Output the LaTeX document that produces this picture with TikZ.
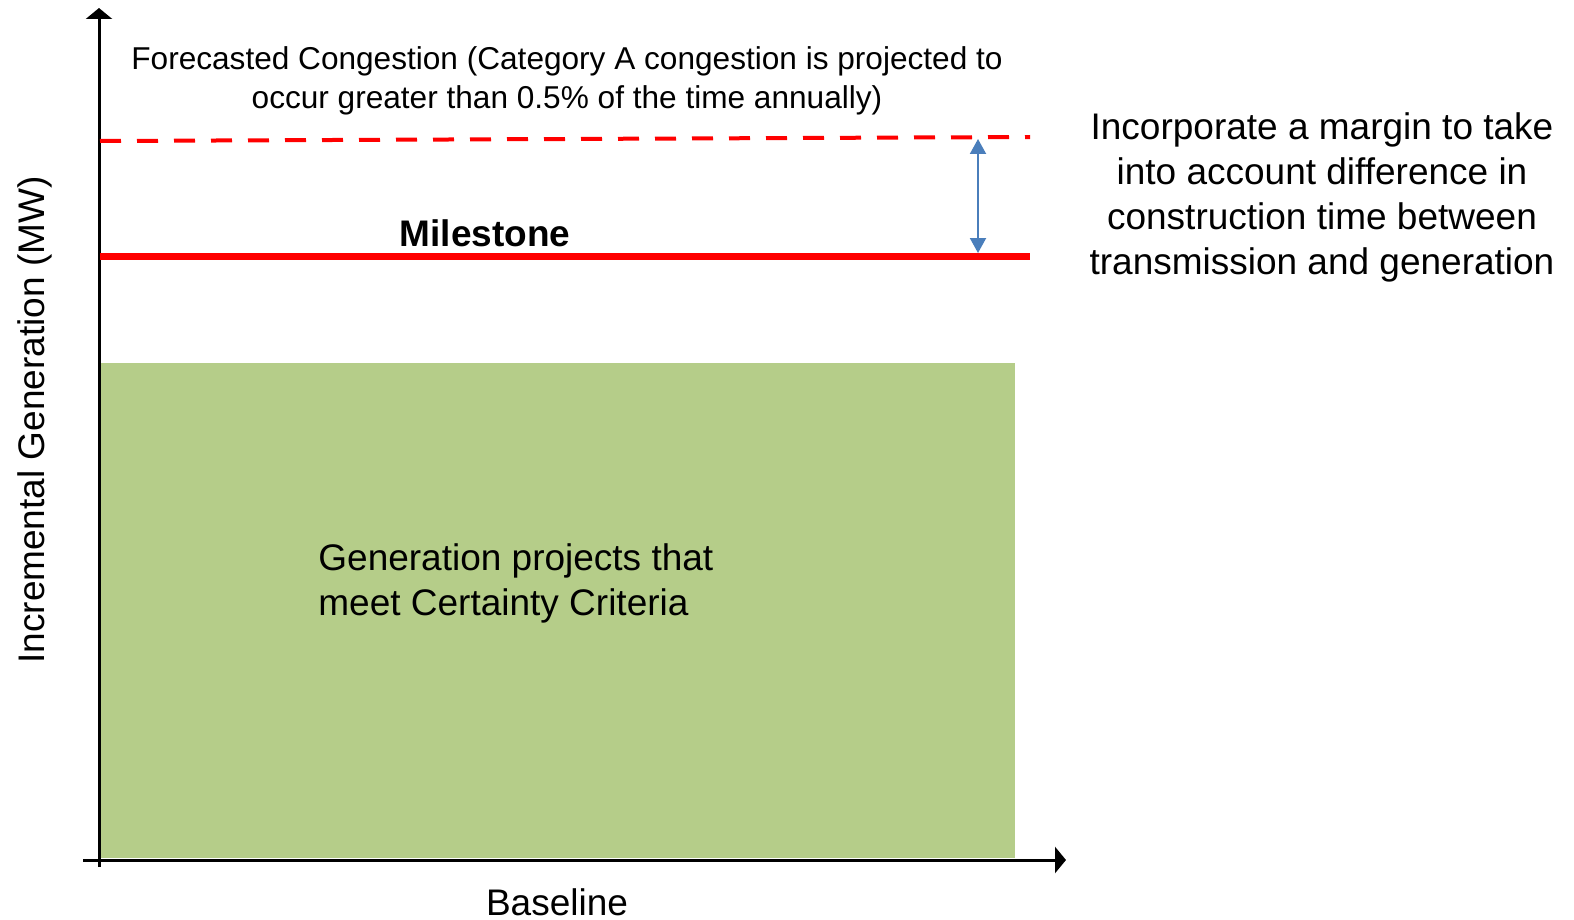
\documentclass[tikz,border=0pt]{standalone}
\usepackage{fontspec}
\setmainfont{Liberation Sans}
\usetikzlibrary{arrows.meta,positioning}
\definecolor{certgreen}{RGB}{181,205,137}
\definecolor{marginblue}{RGB}{74,126,187}

\begin{document}
\begin{tikzpicture}[x=0.5pt,y=-0.5pt]
	\tikzstyle{axis}=[line width=1.5pt, -{Triangle[length=5.5pt,width=13pt]}]
	\tikzstyle{limit}=[red, line width=3.5pt]
	\tikzstyle{forecast}=[red, line width=2pt, dash pattern=on 10.5pt off 8pt]
	\tikzstyle{margin}=[marginblue, line width=1pt, {Triangle[length=7.5pt,width=8pt]}-{Triangle[length=7.5pt,width=8pt]}]
	\tikzstyle{txt}=[inner sep=0pt, align=center, font=\fontsize{18.5}{22.5}\selectfont]
	\useasboundingbox (0,0) rectangle (1574,920);
	% certain generation block
	\fill[certgreen] (100,363) rectangle (1015,858);
	\node[txt, align=left, anchor=west] (certain) at (318,583) {Generation projects that\\meet Certainty Criteria};
	% axes
	\coordinate (ybot) at (99,867);
	\coordinate (ytop) at (99,8);
	\coordinate (xbeg) at (83,860);
	\coordinate (xend) at (1066,860);
	\draw[axis] (ybot) -- (ytop);
	\draw[axis] (xbeg) -- (xend);
	\node[txt] (base) at (557,902) {Baseline};
	\node[txt, rotate=90] (ylab) at (35,420) {Incremental Generation (MW)};
	% congestion and milestone levels
	\coordinate (dashL) at (100,141);
	\coordinate (dashR) at (1030,137);
	\coordinate (mileL) at (100,256);
	\coordinate (mileR) at (1030,256);
	\draw[forecast] (dashL) -- (dashR);
	\draw[limit] (mileL) -- (mileR);
	\node[txt, font=\fontsize{15.8}{19.5}\selectfont] (cong) at (567,81) {Forecasted Congestion (Category A congestion is projected to\\occur greater than 0.5\% of the time annually)};
	\node[txt, font=\fontsize{18.5}{22.5}\selectfont\bfseries] (mile) at (485,233) {Milestone};
	% margin between the two
	\coordinate (gapTop) at (978,139);
	\coordinate (gapBot) at (978,253);
	\draw[margin] (gapTop) -- (gapBot);
	\node[txt] (note) at (1322,197) {Incorporate a margin to take\\into account difference in\\construction time between\\transmission and generation};
\end{tikzpicture}
\end{document}
